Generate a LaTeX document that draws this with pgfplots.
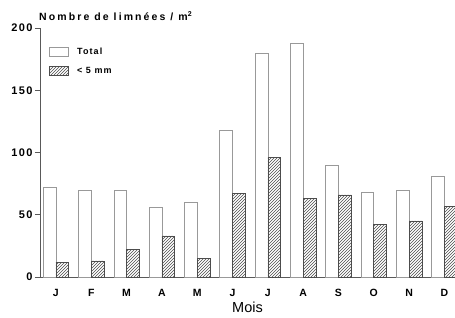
\documentclass[border=0pt]{standalone}
\usepackage{fontspec}
\setmainfont{Liberation Sans}
\newfontfamily\wide[LetterSpace=12]{Liberation Sans}
\newfontfamily\wider[LetterSpace=20]{Liberation Sans}
\usepackage{pgfplots}
\pgfplotsset{compat=1.18}
\usetikzlibrary{patterns}
\begin{document}
\begin{tikzpicture}
\begin{axis}[
  scale only axis, width=415pt, height=249pt,
  xmin=-0.45, xmax=11.3, ymin=0, ymax=200,
  axis x line=bottom, axis y line=left,
  axis line style={-, black!65, line width=0.6pt},
  xtick={0,...,11}, xticklabels={J,F,M,A,M,J,J,A,S,O,N,D},
  x tick style={draw=none},
  ytick={0,50,100,150,200},
  y tick style={black!65, line width=0.6pt},
  tick align=outside, major tick length=5pt,
  /pgf/number format/assume math mode=true,
  xticklabel style={font=\wide\bfseries\fontsize{10.5}{12}\selectfont, yshift=-4pt},
  yticklabel style={font=\wide\bfseries\fontsize{11}{13}\selectfont, xshift=1pt},
  xlabel={Mois}, xlabel style={font=\fontsize{14.5}{16}\selectfont, yshift=2pt},
  ybar, bar width=0.36,
  legend image code/.code={\draw[#1] (0pt,-4.5pt) rectangle (19pt,4.5pt); \path[draw=none,fill=none] (0pt,0pt) -- (25pt,0pt);},
  legend style={at={(rel axis cs:0.022,0.93)}, anchor=north west, draw=none, fill=none,
    inner sep=0pt, row sep=6pt, font=\wide\bfseries\fontsize{9}{11}\selectfont,
    nodes={inner sep=2.5pt}},
  legend cell align=left,
  clip=false,
]
\addplot[bar shift=-0.18, draw=black!40, line width=0.6pt, fill=white] coordinates {
 (0,72) (1,70) (2,70) (3,56) (4,60) (5,118) (6,180) (7,188) (8,90) (9,68) (10,70) (11,81)};
\addlegendentry{Total}
\addplot[bar shift=0.18, draw=black!70, line width=0.6pt, pattern=north east lines, pattern color=black!70] coordinates {
 (0,12) (1,13) (2,22) (3,33) (4,15) (5,67) (6,96) (7,63) (8,66) (9,42) (10,45) (11,57)};
\addlegendentry{< 5 mm}
\node[anchor=south west, inner sep=0pt, font=\wider\bfseries\fontsize{10.5}{12}\selectfont] at ([xshift=-1pt,yshift=7pt]rel axis cs:0,1) {Nombre de limnées / m\raisebox{0.8ex}{\fontsize{7}{8}\selectfont 2}};
\end{axis}
\pgfresetboundingbox
\path (-40pt,-41pt) rectangle (415pt,277pt);
\end{tikzpicture}
\end{document}
